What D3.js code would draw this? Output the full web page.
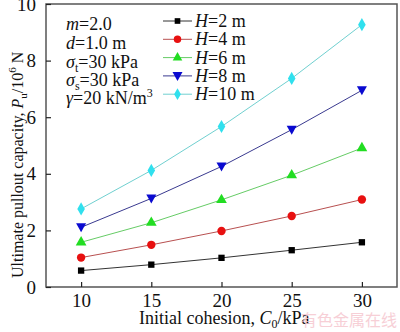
<!DOCTYPE html>
<html>
<head>
<meta charset="utf-8">
<script src="https://cdn.jsdelivr.net/npm/d3@7"></script>
<style>
  body { margin: 0; background: #fff; }
  svg { display: block; font-family: "Liberation Serif", "Times New Roman", serif; }
</style>
</head>
<body>
<svg id="chart" width="400" height="332"></svg>
<script>
// data
const cohesion = [10, 15, 20, 25, 30];
const H2 = [0.58, 0.79, 1.03, 1.30, 1.58];
const H4 = [1.04, 1.49, 1.98, 2.51, 3.09];
const H6 = [1.58, 2.27, 3.08, 3.95, 4.91];
const H8 = [2.11, 3.13, 4.26, 5.56, 6.95];
const H10 = [2.76, 4.12, 5.67, 7.37, 9.27];
const seriesNames = ["2", "4", "6", "8", "10"];
const yTicks = [0, 2, 4, 6, 8, 10];

const series = [
  { h: seriesNames[0], values: H2, color: "#000000", line: "#333333", shape: d3.symbolSquare },
  { h: seriesNames[1], values: H4, color: "#e81010", line: "#b85050", shape: d3.symbolCircle },
  { h: seriesNames[2], values: H6, color: "#22dd22", line: "#66cc66", shape: d3.symbolTriangle },
  { h: seriesNames[3], values: H8, color: "#0a0ad0", line: "#3a3a90", shape: "down" },
  { h: seriesNames[4], values: H10, color: "#30e0ee", line: "#70d0d0", shape: d3.symbolDiamond }
];

const pLeft = 46, pRight = 397, pTop = 4, pBottom = 287;
const svg = d3.select("#chart");

const x = d3.scaleLinear().domain([7.5, 32.5]).range([pLeft, pRight]);
const y = d3.scaleLinear().domain([0, 10]).range([pBottom, pTop]);

// frame
svg.append("rect")
  .attr("x", pLeft).attr("y", pTop)
  .attr("width", pRight - pLeft).attr("height", pBottom - pTop)
  .attr("fill", "none").attr("stroke", "#555").attr("stroke-width", 1.5);

// axes with inward ticks
const xAxis = svg.append("g")
  .attr("transform", "translate(0," + pBottom + ")")
  .call(d3.axisBottom(x).tickValues(cohesion).tickSize(-5).tickPadding(7));
const yAxis = svg.append("g")
  .attr("transform", "translate(" + pLeft + ",0)")
  .call(d3.axisLeft(y).tickValues(yTicks).tickSize(-5).tickPadding(10));

[xAxis, yAxis].forEach(function (g) {
  g.select(".domain").remove();
  g.selectAll("line").attr("stroke", "#222").attr("stroke-width", 1.2);
  g.selectAll("text")
    .attr("font-size", 19)
    .attr("font-family", "Liberation Serif")
    .attr("fill", "#111");
});

function marker(shape, size) {
  if (shape === "down") {
    return "M-5,-4L5,-4L0,5Z";
  }
  return d3.symbol().type(shape).size(size)();
}

const sizes = [40, 55, 50, 0, 50];

series.forEach(function (s, i) {
  const pts = s.values.map(function (v, j) { return [cohesion[j], v]; });
  svg.append("path")
    .datum(pts)
    .attr("fill", "none")
    .attr("stroke", s.line)
    .attr("stroke-width", 1)
    .attr("d", d3.line()
      .x(function (d) { return x(d[0]); })
      .y(function (d) { return y(d[1]); }));

  svg.append("g")
    .selectAll("path")
    .data(pts).enter()
    .append("path")
    .attr("transform", function (d) { return "translate(" + x(d[0]) + "," + y(d[1]) + ")"; })
    .attr("d", marker(s.shape, sizes[i]))
    .attr("fill", s.color);

  // legend row
  const ly = 21 + i * 18.3;
  svg.append("line")
    .attr("x1", 163).attr("x2", 192).attr("y1", ly).attr("y2", ly)
    .attr("stroke", s.line).attr("stroke-width", 1);
  svg.append("path")
    .attr("transform", "translate(177.5," + ly + ")")
    .attr("d", marker(s.shape, sizes[i] * 0.8))
    .attr("fill", s.color);
  const t = svg.append("text")
    .attr("x", 195).attr("y", ly + 6)
    .attr("font-size", 18).attr("fill", "#111");
  t.append("tspan").attr("font-style", "italic").text("H");
  t.append("tspan").text("=" + s.h + " m");
});

// parameter notes
const notes = svg.append("g").attr("font-size", 18).attr("fill", "#111");
const nx = 66;
let n = notes.append("text").attr("x", nx).attr("y", 30);
n.append("tspan").attr("font-style", "italic").text("m");
n.append("tspan").text("=2.0");
n = notes.append("text").attr("x", nx).attr("y", 49);
n.append("tspan").attr("font-style", "italic").text("d");
n.append("tspan").text("=1.0 m");
n = notes.append("text").attr("x", nx).attr("y", 68);
n.append("tspan").attr("font-style", "italic").text("σ");
n.append("tspan").attr("font-size", 12).attr("dy", 4).text("t");
n.append("tspan").attr("dy", -4).text("=30 kPa");
n = notes.append("text").attr("x", nx).attr("y", 86);
n.append("tspan").attr("font-style", "italic").text("σ");
n.append("tspan").attr("font-size", 12).attr("dy", 4).text("s");
n.append("tspan").attr("dy", -4).text("=30 kPa");
n = notes.append("text").attr("x", nx).attr("y", 104);
n.append("tspan").attr("font-style", "italic").text("γ");
n.append("tspan").text("=20 kN/m");
n.append("tspan").attr("font-size", 12).attr("dy", -7).text("3");

// axis titles
const xt = svg.append("text")
  .attr("x", 139).attr("y", 324)
  .attr("font-size", 18).attr("fill", "#111");
xt.append("tspan").text("Initial cohesion, ");
xt.append("tspan").attr("font-style", "italic").text("C");
xt.append("tspan").attr("font-size", 12).attr("dy", 4).text("0");
xt.append("tspan").attr("dy", -4).text("/kPa");

const yt = svg.append("text")
  .attr("transform", "translate(23,278) rotate(-90)")
  .attr("font-size", 16).attr("fill", "#111");
yt.append("tspan").text("Ultimate pullout capacity, ");
yt.append("tspan").attr("font-style", "italic").text("P");
yt.append("tspan").attr("font-size", 11).attr("dy", 4).text("u");
yt.append("tspan").attr("dy", -4).text("/10");
yt.append("tspan").attr("font-size", 11).attr("dy", -7).text("6");
yt.append("tspan").attr("dy", 7).text(" N");

// watermark
svg.append("text")
  .attr("x", 397).attr("y", 326)
  .attr("text-anchor", "end")
  .attr("font-family", "Noto Sans CJK SC")
  .attr("font-size", 16)
  .attr("fill", "#f6c4cd")
  .attr("opacity", 0.8)
  .text("有色金属在线");
</script>
</body>
</html>
